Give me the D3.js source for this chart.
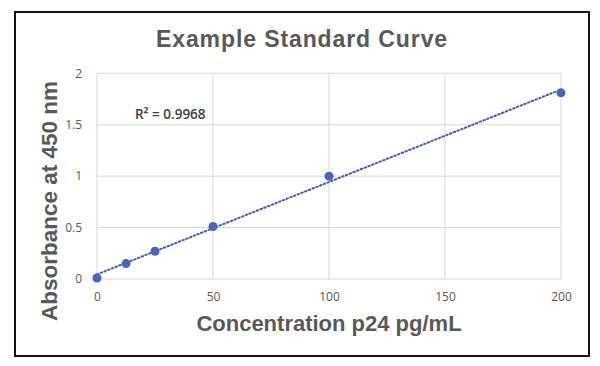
<!DOCTYPE html>
<html><head><meta charset="utf-8">
<script src="https://cdn.jsdelivr.net/npm/d3@7"></script>
<style>body{margin:0;background:#fff}svg{display:block}</style>
</head><body>
<svg id="c" width="600" height="366"></svg>
<script>
const concentration = [0, 12.5, 25, 50, 100, 200];
const absorbance = [0.01, 0.15, 0.27, 0.51, 1.0, 1.81];
const xTicks = [0, 50, 100, 150, 200];
const yTicks = [0, 0.5, 1, 1.5, 2];
const title = "Example Standard Curve";
const xTitle = "Concentration p24 pg/mL";
const yTitle = "Absorbance at 450 nm";
const r2Label = "R² = 0.9968";

const svg = d3.select("#c");
svg.append("rect").attr("x",15).attr("y",12).attr("width",574).attr("height",344)
  .attr("fill","#fff").attr("stroke","#111").attr("stroke-width",2);

const x = d3.scaleLinear().domain([0,200]).range([97,561]);
const y = d3.scaleLinear().domain([0,2]).range([279,73.3]);

const grid = svg.append("g");
grid.selectAll("line.h").data(yTicks).join("line")
  .attr("x1",x(0)).attr("x2",x(200)).attr("y1",d=>y(d)).attr("y2",d=>y(d))
  .attr("stroke","#d9d9d9").attr("stroke-width",1);
grid.selectAll("line.v").data(xTicks).join("line")
  .attr("y1",y(0)).attr("y2",y(2)).attr("x1",d=>x(d)).attr("x2",d=>x(d))
  .attr("stroke","#d9d9d9").attr("stroke-width",1);

const xAxis = svg.append("g").attr("transform",`translate(0,${y(0)})`)
  .call(d3.axisBottom(x).tickValues(xTicks).tickSize(0).tickPadding(13).tickFormat(d3.format("d")));
const yAxis = svg.append("g").attr("transform",`translate(${x(0)},0)`)
  .call(d3.axisLeft(y).tickValues(yTicks).tickSize(0).tickPadding(15).tickFormat(d=>String(d)));
[xAxis,yAxis].forEach(a=>{
  a.select(".domain").remove();
  a.selectAll("text").attr("fill","#595959").style("font-family","'Open Sans', sans-serif").style("font-size","12px");
});

// linear trendline (least squares)
const n = concentration.length;
const mx = d3.mean(concentration), my = d3.mean(absorbance);
let sxy=0,sxx=0;
for(let i=0;i<n;i++){sxy+=(concentration[i]-mx)*(absorbance[i]-my);sxx+=(concentration[i]-mx)**2;}
const slope=sxy/sxx, icpt=my-slope*mx;
svg.append("line").attr("x1",x(0)).attr("y1",y(icpt)).attr("x2",x(200)).attr("y2",y(icpt+slope*200))
  .attr("stroke","#4a5ab0").attr("stroke-width",2).attr("stroke-dasharray","1.5,2.5").attr("stroke-linecap","round");

svg.selectAll("circle.p").data(concentration).join("circle")
  .attr("cx",d=>x(d)).attr("cy",(d,i)=>y(absorbance[i])).attr("r",4.5)
  .attr("fill","#4a63c0");

const ff = "'Liberation Sans', Arial, sans-serif";
svg.append("text").attr("x",302).attr("y",47).attr("text-anchor","middle")
  .attr("fill","#595959").style("font-family",ff)
  .style("font-weight","bold").style("font-size","23px").style("letter-spacing","0.9px").text(title);
svg.append("text").attr("x",329).attr("y",331).attr("text-anchor","middle")
  .attr("fill","#595959").style("font-family",ff)
  .style("font-weight","bold").style("font-size","22px").text(xTitle);
svg.append("text").attr("transform","translate(57,201) rotate(-90)").attr("text-anchor","middle")
  .attr("fill","#595959").style("font-family",ff)
  .style("font-weight","bold").style("font-size","22.5px").text(yTitle);
svg.append("text").attr("x",135).attr("y",119)
  .attr("fill","#404040").style("font-family","'Open Sans', sans-serif").style("font-weight","600")
  .style("font-size","13.5px").text(r2Label);
</script>
</body></html>
